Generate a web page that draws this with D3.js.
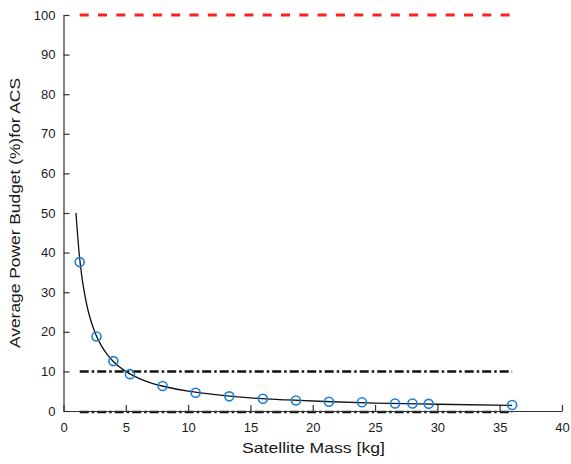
<!DOCTYPE html>
<html>
  <head>
    <meta charset="utf-8">
    <title>ACS power budget</title>
    <script src="https://d3js.org/d3.v7.min.js"></script>
    <style>
      body { margin: 0; background: #fff; }
      text { font-family: "Liberation Sans", Arial, sans-serif; fill: #1a1a1a; }
    </style>
  </head>
  <body>
    <script>
      // measured points (satellite mass, % of power budget)
      var massPts = [1.3, 2.65, 4.0, 5.33, 7.95, 10.6, 13.3, 16.0, 18.65, 21.3, 23.95, 26.6, 28.0, 29.3, 36.0];
      var powerPts = [37.6, 18.8, 12.6, 9.3, 6.3, 4.6, 3.7, 3.1, 2.65, 2.35, 2.2, 1.9, 1.9, 1.8, 1.5];

      // fitted curve
      var curveX = [1, 1.25, 1.5, 1.75, 2, 2.5, 3, 3.5, 4, 5, 6, 7, 8, 10, 12, 15, 18, 21, 25, 30, 36];
      var curveY = [50, 40, 33.3, 28.6, 25, 20, 16.7, 14.3, 12.5, 10, 8.3, 7.1, 6.25, 5, 4.2, 3.3, 2.8, 2.4, 2.0, 1.7, 1.4];

      var limitLines = [
        { y: 100, x0: 1.3, x1: 36, color: "#ff1f1f", dash: "9,9.3", w: 3 },
        { y: 10, x0: 1.3, x1: 36, color: "#111", dash: "9,3,2.5,3", w: 2.5 },
        { y: 0, x0: 1.3, x1: 36, color: "#111", dash: "9,3,2.5,3", w: 2.5 }
      ];

      var xTicks = [0, 5, 10, 15, 20, 25, 30, 35, 40];
      var yTicks = [0, 10, 20, 30, 40, 50, 60, 70, 80, 90, 100];

      var width = 571, height = 464;
      var margin = { left: 63.5, right: 9, top: 15, bottom: 53 };

      var svg = d3.select("body").append("svg")
                  .attr("width", width)
                  .attr("height", height);

      var x = d3.scaleLinear().domain([0, 40]).range([margin.left, width - margin.right]);
      var y = d3.scaleLinear().domain([0, 100]).range([height - margin.bottom, margin.top]);

      // limit lines
      svg.selectAll(".limit")
        .data(limitLines)
        .enter().append("line")
        .attr("class", "limit")
        .attr("x1", function(d) { return x(d.x0); })
        .attr("x2", function(d) { return x(d.x1); })
        .attr("y1", function(d) { return y(d.y) + (d.y === 0 ? 1 : 0); })
        .attr("y2", function(d) { return y(d.y) + (d.y === 0 ? 1 : 0); })
        .attr("stroke", function(d) { return d.color; })
        .attr("stroke-width", function(d) { return d.w; })
        .attr("stroke-dasharray", function(d) { return d.dash; });

      // axes
      var xAxis = svg.append("g")
        .attr("transform", "translate(0," + y(0) + ")")
        .call(d3.axisBottom(x).tickValues(xTicks).tickSizeInner(-6).tickSizeOuter(0).tickPadding(12));
      var yAxis = svg.append("g")
        .attr("transform", "translate(" + x(0) + ",0)")
        .call(d3.axisLeft(y).tickValues(yTicks).tickSizeInner(-6).tickSizeOuter(0).tickPadding(8));

      [xAxis, yAxis].forEach(function(g) {
        g.select(".domain").attr("stroke", "#333").attr("stroke-width", 1.2);
        g.selectAll(".tick line").attr("stroke", "#333").attr("stroke-width", 1.2);
        g.selectAll(".tick text").attr("font-size", 13).attr("fill", "#1a1a1a")
          .style("font-family", "'Liberation Sans', Arial, sans-serif");
      });

      // fitted curve
      var line = d3.line()
        .x(function(d) { return x(d[0]); })
        .y(function(d) { return y(d[1]); })
        .curve(d3.curveMonotoneX);

      svg.append("path")
        .datum(d3.zip(curveX, curveY))
        .attr("d", line)
        .attr("fill", "none")
        .attr("stroke", "#111")
        .attr("stroke-width", 1.3);

      // markers
      svg.selectAll(".pt")
        .data(d3.zip(massPts, powerPts))
        .enter().append("circle")
        .attr("class", "pt")
        .attr("cx", function(d) { return x(d[0]); })
        .attr("cy", function(d) { return y(d[1]); })
        .attr("r", 4.5)
        .attr("fill", "none")
        .attr("stroke", "#1a7fd6")
        .attr("stroke-width", 1.6);

      // labels (reference glyphs are wider than Arial, so stretch to measured length)
      svg.append("text")
        .attr("x", 313.5)
        .attr("y", 453)
        .attr("text-anchor", "middle")
        .attr("font-size", 14.5)
        .attr("textLength", 143)
        .attr("lengthAdjust", "spacingAndGlyphs")
        .text("Satellite Mass [kg]");

      svg.append("text")
        .attr("transform", "translate(20,213) rotate(-90)")
        .attr("text-anchor", "middle")
        .attr("font-size", 14.5)
        .attr("textLength", 270)
        .attr("lengthAdjust", "spacingAndGlyphs")
        .text("Average Power Budget (%)for ACS");
    </script>
  </body>
</html>
